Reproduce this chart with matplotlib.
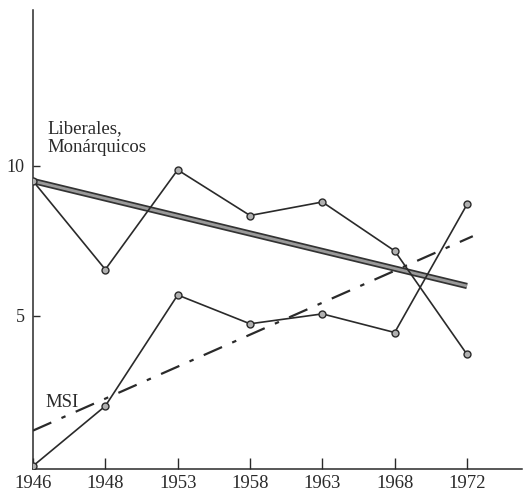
import matplotlib
matplotlib.use("Agg")
import matplotlib.pyplot as plt
import numpy as np

years = ["1946", "1948", "1953", "1958", "1963", "1968", "1972"]
liberales = [9.5, 6.55, 9.87, 8.35, 8.8, 7.17, 3.72]
msi = [0.0, 2.0, 5.7, 4.74, 5.07, 4.45, 8.72]
lib_trend = [9.5, 6.0]   # at first and last election
msi_trend = [1.18, 7.66]  # at 1946 and slightly after 1972
msi_trend_x = [0, 6.08]
yticks = [5, 10]

plt.rcParams['font.family'] = ['Liberation Serif', 'DejaVu Serif']

fig = plt.figure(figsize=(5.26, 4.99), dpi=100)
ax = fig.add_axes([33/526, 1 - 469/499, (522-33)/526, (469-10)/499])

x = np.arange(len(years))
c = '#2a2a2a'
# thick trend line for Liberales
ax.plot([x[0], x[-1]], lib_trend, color='#333333', lw=4.5, solid_capstyle='butt', zorder=2)
ax.plot([x[0], x[-1]], lib_trend, color='#9a9a9a', lw=2.0, solid_capstyle='butt', zorder=2)
# MSI trend dash-dot
ax.plot(msi_trend_x, msi_trend, color=c, lw=1.6, dashes=(9, 5, 2, 5), zorder=2)

ax.plot(x, liberales, color=c, lw=1.2, marker='o', ms=5, mfc='#b0b0b0', mec=c, mew=1.0, zorder=3)
ax.plot(x, msi, color=c, lw=1.2, marker='o', ms=5, mfc='#b0b0b0', mec=c, mew=1.0, zorder=3)

ax.set_xlim(0, 6.76)
ax.set_ylim(-0.1, 15.2)
ax.set_xticks(x)
ax.set_xticklabels(years, fontsize=13.5)
ax.set_yticks(yticks)
ax.set_yticklabels([str(v) for v in yticks], fontsize=13)
ax.tick_params(axis='x', direction='in', length=8, width=1, pad=4, colors=c)
ax.tick_params(axis='y', direction='in', length=5, width=1, pad=6, colors=c)
ax.spines['top'].set_visible(False)
ax.spines['right'].set_visible(False)
for s in ['left', 'bottom']:
    ax.spines[s].set_color(c)
    ax.spines[s].set_linewidth(1.1)

ax.text(0.2, 10.45, "Liberales,\nMonárquicos", fontsize=13.5, color=c, ha='left', va='baseline', linespacing=1.2)
ax.text(0.17, 1.97, "MSI", fontsize=13.5, color=c, ha='left', va='baseline')

fig.savefig("out.png", dpi=100)
